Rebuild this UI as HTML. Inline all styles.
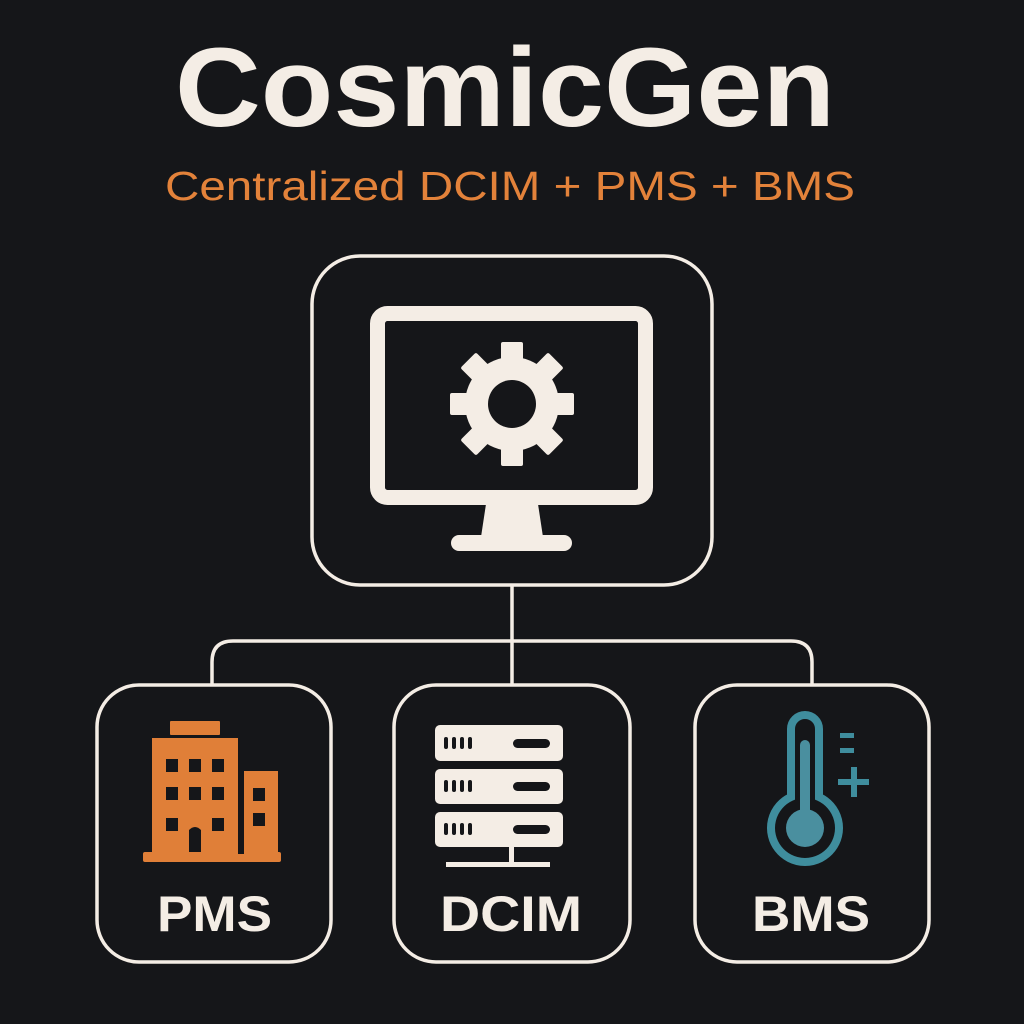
<!DOCTYPE html>
<html><head><meta charset="utf-8"><style>
html,body{margin:0;padding:0;background:#151619;}
svg{display:block}
</style></head><body>
<svg width="1024" height="1024" viewBox="0 0 1024 1024" xmlns="http://www.w3.org/2000/svg">
<rect width="1024" height="1024" fill="#151619"/>
<text x="175" y="126" textLength="660" lengthAdjust="spacingAndGlyphs" font-family="Liberation Sans, sans-serif" font-weight="bold" font-size="112" fill="#f4ede5">CosmicGen</text>
<text x="165" y="200" textLength="690" lengthAdjust="spacingAndGlyphs" font-family="Liberation Sans, sans-serif" font-size="41" fill="#e3823a">Centralized DCIM + PMS + BMS</text>

<g fill="none" stroke="#f4ede5" stroke-width="3.5">
<rect x="312" y="256" width="400" height="329" rx="48"/>
<path d="M512 585 V685"/>
<path d="M212 685 V662 Q212 641 233 641 H791 Q812 641 812 662 V685"/>
<rect x="97" y="685" width="234" height="277" rx="42"/>
<rect x="394" y="685" width="236" height="277" rx="42"/>
<rect x="695" y="685" width="234" height="277" rx="42"/>
</g>

<!-- monitor -->
<rect x="377.5" y="313.5" width="268" height="184" rx="10" fill="none" stroke="#f4ede5" stroke-width="15"/>
<path d="M486 504 H538 L543 537 H481 Z" fill="#f4ede5"/>
<rect x="451" y="535" width="121" height="16" rx="8" fill="#f4ede5"/>
<!-- gear -->
<g transform="translate(512,404)" fill="#f4ede5">
<circle r="47"/>
<g id="t"><rect x="-11" y="-62" width="22" height="24" rx="2"/></g>
<use href="#t" transform="rotate(45)"/><use href="#t" transform="rotate(90)"/><use href="#t" transform="rotate(135)"/>
<use href="#t" transform="rotate(180)"/><use href="#t" transform="rotate(225)"/><use href="#t" transform="rotate(270)"/><use href="#t" transform="rotate(315)"/>
<circle r="24" fill="#151619"/>
</g>

<!-- building -->
<g fill="#e07f38">
<rect x="170" y="721" width="50" height="14" rx="1"/>
<rect x="152" y="738" width="86" height="116"/>
<rect x="244" y="771" width="34" height="83"/>
<rect x="143" y="852" width="138" height="10" rx="2"/>
</g>
<g fill="#151619">
<rect x="166" y="759" width="12" height="13"/><rect x="189" y="759" width="12" height="13"/><rect x="212" y="759" width="12" height="13"/>
<rect x="166" y="787" width="12" height="13"/><rect x="189" y="787" width="12" height="13"/><rect x="212" y="787" width="12" height="13"/>
<rect x="166" y="818" width="12" height="13"/><rect x="212" y="818" width="12" height="13"/>
<path d="M189 852 V830 Q195 824 201 830 V852 Z"/>
<rect x="253" y="788" width="12" height="13"/><rect x="253" y="813" width="12" height="13"/>
<rect x="238" y="771" width="6" height="83"/>
</g>

<!-- server -->
<g fill="#f4ede5">
<rect x="435" y="725" width="128" height="36" rx="5"/>
<rect x="435" y="769" width="128" height="35" rx="5"/>
<rect x="435" y="812" width="128" height="35" rx="5"/>
<rect x="509" y="847" width="5" height="18"/>
<rect x="446" y="862" width="104" height="5"/>
</g>
<g fill="#151619">
<rect x="444" y="737" width="4" height="12" rx="2"/><rect x="452" y="737" width="4" height="12" rx="2"/><rect x="460" y="737" width="4" height="12" rx="2"/><rect x="468" y="737" width="4" height="12" rx="2"/>
<rect x="513" y="739" width="37" height="9" rx="4.5"/>
<rect x="444" y="780" width="4" height="12" rx="2"/><rect x="452" y="780" width="4" height="12" rx="2"/><rect x="460" y="780" width="4" height="12" rx="2"/><rect x="468" y="780" width="4" height="12" rx="2"/>
<rect x="513" y="782" width="37" height="9" rx="4.5"/>
<rect x="444" y="823" width="4" height="12" rx="2"/><rect x="452" y="823" width="4" height="12" rx="2"/><rect x="460" y="823" width="4" height="12" rx="2"/><rect x="468" y="823" width="4" height="12" rx="2"/>
<rect x="513" y="825" width="37" height="9" rx="4.5"/>
</g>

<!-- thermometer -->
<path d="M791 797 V729 A14 14 0 0 1 819 729 V797 A34 34 0 1 1 791 797 Z" fill="none" stroke="#3f8d9d" stroke-width="8"/>
<rect x="800" y="740" width="10" height="80" rx="5" fill="#4a8f9f"/>
<circle cx="805" cy="828" r="19" fill="#4a8f9f"/>
<g fill="#3f8d9d">
<rect x="840" y="733" width="14" height="5"/>
<rect x="840" y="748" width="14" height="5"/>
<rect x="838" y="779" width="31" height="6"/>
<rect x="851" y="767" width="6" height="30"/>
</g>

<g font-family="Liberation Sans, sans-serif" font-weight="bold" font-size="50" fill="#f4ede5">
<text x="157" y="931" textLength="115" lengthAdjust="spacingAndGlyphs">PMS</text>
<text x="440" y="931" textLength="142" lengthAdjust="spacingAndGlyphs">DCIM</text>
<text x="752" y="931" textLength="118" lengthAdjust="spacingAndGlyphs">BMS</text>
</g>
</svg>
</body></html>
